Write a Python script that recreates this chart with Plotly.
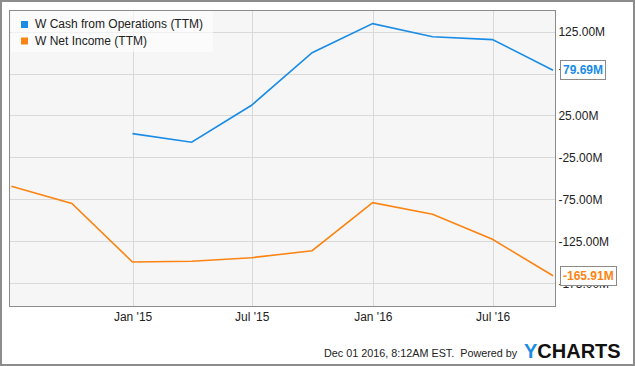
import plotly.graph_objects as go

# ---------------- data ----------------
dates = ["2014-06-30", "2014-09-30", "2014-12-31", "2015-03-31", "2015-06-30",
         "2015-09-30", "2015-12-31", "2016-03-31", "2016-06-30", "2016-09-30"]
cash_ops = [None, None, 3.9, -6.4, 37.8, 100.6, 135.3, 119.7, 116.2, 79.69]
net_income = [-59.0, -79.5, -149.4, -148.6, -144.3, -135.9, -78.6, -92.4, -122.3, -165.91]
series_names = ["W Cash from Operations (TTM)", "W Net Income (TTM)"]
series_colors = ["#1a8ce6", "#fb8412"]
x_tick_vals = ["2015-01-01", "2015-07-01", "2016-01-01", "2016-07-01"]
x_tick_text = ["Jan '15", "Jul '15", "Jan '16", "Jul '16"]
y_tick_vals = [125, 75, 25, -25, -75, -125, -175]
y_tick_text = ["125.00M", "75.00M", "25.00M", "-25.00M", "-75.00M", "-125.00M", "-175.00M"]

W, H = 635, 366
ML, MR, MT, MB = 10, 80, 11, 60
PW, PH = W - ML - MR, H - MT - MB


def px(x):
    return (x - ML) / PW


def py(y):
    return (H - MB - y) / PH


fig = go.Figure()
for vals, name, col in zip([cash_ops, net_income], series_names, series_colors):
    fig.add_trace(go.Scatter(x=dates, y=vals, name=name, mode="lines",
                             line=dict(color=col, width=1.6), showlegend=False))

font = "Liberation Sans, Arial, sans-serif"
ann = []
shapes = []

# legend (manual)
shapes.append(dict(type="rect", xref="paper", yref="paper", x0=px(11), x1=px(213),
                   y0=py(52), y1=py(11), fillcolor="rgba(255,255,255,0.6)",
                   line=dict(width=0), layer="above"))
for i, (name, col) in enumerate(zip(series_names, series_colors)):
    cy = 24.5 + i * 16.5
    shapes.append(dict(type="rect", xref="paper", yref="paper", x0=px(21), x1=px(28),
                       y0=py(cy + 3.5), y1=py(cy - 3.5), fillcolor=col,
                       line=dict(width=0), layer="above"))
    ann.append(dict(x=px(33), y=py(cy), xref="paper", yref="paper", text=name,
                    showarrow=False, xanchor="left", yanchor="middle",
                    font=dict(family=font, size=12, color="#222")))

# last value boxes
for vals, col in zip([cash_ops, net_income], series_colors):
    v = vals[-1]
    ann.append(dict(x=1, y=v, xref="paper", yref="y", text=f"<b>{v:.2f}M</b>",
                    showarrow=False, xanchor="left", yanchor="middle", xshift=5,
                    bgcolor="white", bordercolor="#8a8a8a", borderwidth=1, borderpad=2,
                    font=dict(family=font, size=12, color=col)))

# footer
ann.append(dict(x=px(520), y=py(352.5), xref="paper", yref="paper",
                text="Dec 01 2016, 8:12AM EST.  Powered by", showarrow=False,
                xanchor="right", yanchor="middle",
                font=dict(family=font, size=10.8, color="#222")))
ann.append(dict(x=px(522), y=py(351), xref="paper", yref="paper",
                text="<span style='color:#1a8ce6'>Y</span>CHARTS", showarrow=False,
                xanchor="left", yanchor="middle",
                font=dict(family=font, size=20, color="#111", weight="bold")))

# outer frame
shapes.append(dict(type="rect", xref="paper", yref="paper", x0=px(1), x1=px(634),
                   y0=py(365), y1=py(1), line=dict(color="#8c8c8c", width=2),
                   fillcolor="rgba(0,0,0,0)", layer="above"))

fig.update_layout(
    width=W, height=H, autosize=False,
    margin=dict(l=ML, r=MR, t=MT, b=MB),
    paper_bgcolor="white", plot_bgcolor="#f6f6f6",
    font=dict(family=font, size=12, color="#222"),
    annotations=ann, shapes=shapes, showlegend=False,
    xaxis=dict(type="date", range=["2014-06-28", "2016-10-03"],
               tickvals=x_tick_vals, ticktext=x_tick_text,
               showgrid=True, gridcolor="#d9d9d9", gridwidth=1,
               showline=True, linecolor="#8c8c8c", linewidth=1, mirror=True,
               ticks="", zeroline=False, tickfont=dict(size=12, color="#222")),
    yaxis=dict(range=[-202, 150.4], side="right",
               tickvals=y_tick_vals, ticktext=y_tick_text,
               showgrid=True, gridcolor="#d9d9d9", gridwidth=1,
               showline=True, linecolor="#8c8c8c", linewidth=1, mirror=True,
               ticks="", zeroline=False, tickfont=dict(size=12, color="#222")),
)

fig.write_html("out.html", config={"displayModeBar": False},
               post_script="document.body.style.margin='0';document.body.style.overflow='hidden';")
